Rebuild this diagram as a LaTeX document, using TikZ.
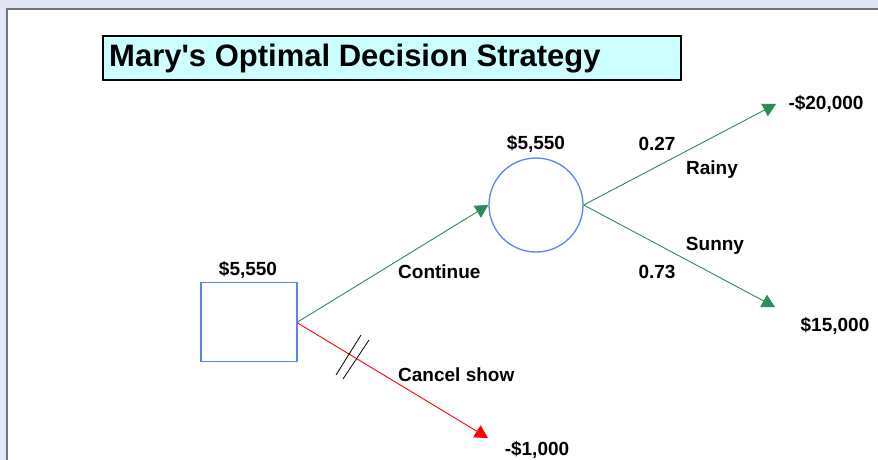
\documentclass[tikz,border=0pt]{standalone}
\usepackage{fontspec}
\setmainfont{Liberation Sans}
\usetikzlibrary{positioning}
\usetikzlibrary{arrows.meta}
\definecolor{bandblue}{HTML}{E1E5F5}
\definecolor{nodeblue}{HTML}{5A84F2}
\definecolor{branchgreen}{HTML}{2E8B5A}
\definecolor{titlecyan}{HTML}{CCFFFF}

\begin{document}
\begin{tikzpicture}[x=1pt, y=-1pt,
  decision/.style={draw=nodeblue, line width=1.3pt, minimum width=96pt, minimum height=79pt, inner sep=0pt},
  chance/.style={draw=nodeblue, line width=1.3pt, circle, minimum size=94pt, inner sep=0pt},
  branch/.style={draw=branchgreen, line width=0.9pt, -{Triangle[length=13pt, width=14pt]}},
  lbl/.style={font=\fontsize{19}{21}\selectfont\bfseries, inner sep=0pt},
  val/.style={font=\fontsize{19}{21}\selectfont\bfseries, inner sep=0pt}]
  \useasboundingbox (0,0) rectangle (878,460);
  \fill[bandblue] (0,0) rectangle (878,460);
  \fill[white] (7,9) rectangle (878,460);
  \draw[black!55, line width=1.5pt] (7,460) -- (7,9) -- (878,9);

  \node[draw, line width=1.8pt, fill=titlecyan, minimum width=578pt, minimum height=44pt,
        inner sep=0pt] (title) at (392,58) {};
  \node[anchor=west, font=\fontsize{31}{34}\selectfont\bfseries, inner sep=0pt] (titletext)
        at (109,59) {Mary\textquotesingle s Optimal Decision Strategy};

  \node[decision] (dec) at (249,322) {};
  \node[chance] (chc) at (536,205) {};
  \coordinate (rainend) at (776,104);
  \coordinate (sunend) at (775,307);
  \coordinate (cancelend) at (488,438);

  \draw[branch] (dec.east) -- (chc.west);
  \draw[draw=red, line width=0.9pt, -{Triangle[length=13pt, width=14pt]}] ([yshift=-1pt]dec.east) -- (cancelend);
  \draw[branch] (chc.east) -- (rainend);
  \draw[branch] (chc.east) -- (sunend);

  \coordinate (hashA) at (336,375);
  \coordinate (hashB) at (361,335);
  \coordinate (hashC) at (343,379);
  \coordinate (hashD) at (369,340);
  \draw[line width=0.8pt] (hashA) -- (hashB);
  \draw[line width=0.8pt] (hashC) -- (hashD);

  \node[lbl] (decval) at (248,270) {\$5,550};
  \node[lbl] (chcval) at (536,144) {\$5,550};
  \node[lbl, anchor=west] (cont) at (398,272) {Continue};
  \node[lbl, anchor=west] (cancel) at (398,375) {Cancel show};
  \node[lbl] (prainy) at (657,144) {0.27};
  \node[lbl] (rainy) at (712,170) {Rainy};
  \node[lbl] (sunny) at (715,246) {Sunny};
  \node[lbl] (psunny) at (657,272) {0.73};
  \node[val] (rainval) at (826,104) {-\$20,000};
  \node[val] (sunval) at (835,326) {\$15,000};
  \node[val] (cancelval) at (537,450) {-\$1,000};
\end{tikzpicture}
\end{document}
